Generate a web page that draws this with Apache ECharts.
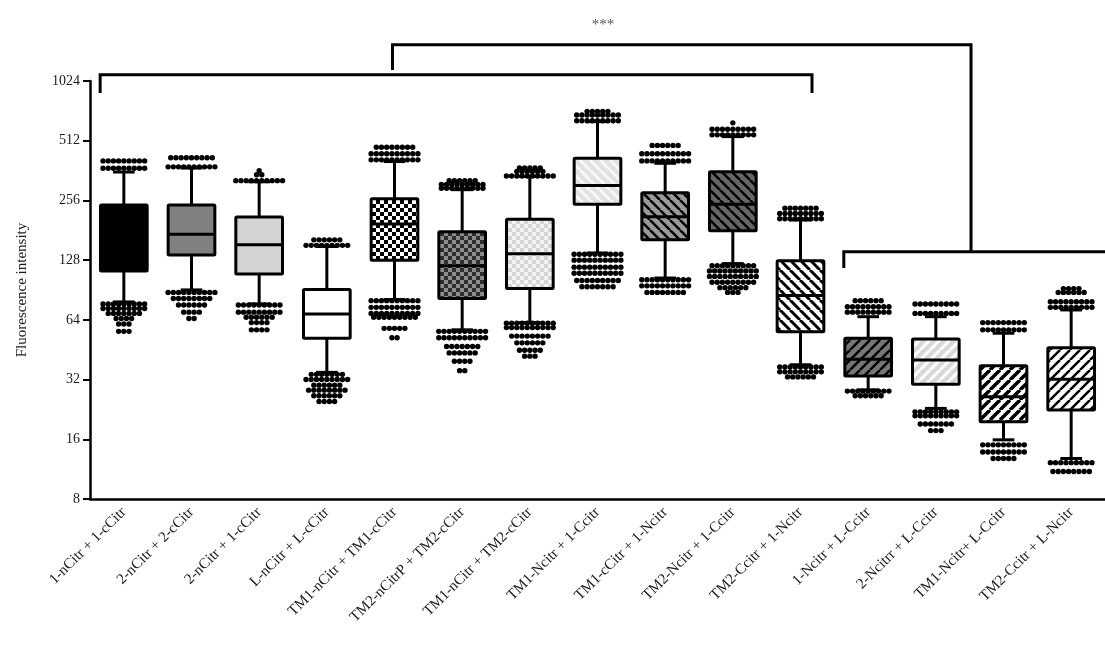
<!DOCTYPE html>
<html>
<head>
<meta charset="utf-8">
<script src="https://cdn.jsdelivr.net/npm/echarts@6/dist/echarts.min.js"></script>
<style>
html, body { margin: 0; padding: 0; background: #fff; }
#main { width: 1105px; height: 645px; }
</style>
</head>
<body>
<div id="main"></div>
<script>
const categories = [
  '1-nCitr + 1-cCitr', '2-nCitr + 2-cCitr', '2-nCitr + 1-cCitr', 'L-nCitr + L-cCitr',
  'TM1-nCitr + TM1-cCitr', 'TM2-nCitrP + TM2-cCitr', 'TM1-nCitr + TM2-cCitr',
  'TM1-Ncitr + 1-Ccitr', 'TM1-cCitr + 1-Ncitr', 'TM2-Ncitr + 1-Ccitr', 'TM2-Ccitr + 1-Ncitr',
  '1-Ncitr + L-Ccitr', '2-Ncitrr + L-Ccitr', 'TM1-Ncitr+ L-Ccitr', 'TM2-Ccitr + L-Ncitr'
];
const whiskerLow  = [78.8, 90.6, 77, 34.8, 81, 57, 62, 139, 104, 123, 38, 28.4, 22.9, 15.9, 12.8];
const q1          = [113, 136, 109, 51.7, 128, 82, 92, 245, 162, 180, 55.8, 33.4, 30.3, 19.6, 22.5];
const median      = [170, 173, 153, 68.6, 195, 120, 138, 304, 212, 245, 85, 40.5, 40.2, 26.2, 32.1];
const q3          = [243, 243, 211, 91, 261, 178, 206, 418, 280, 357, 127, 51.7, 51.3, 37.6, 46.3];
const whiskerHigh = [356, 373, 318, 150, 402, 290, 338, 639, 394, 537, 204, 66.4, 66.4, 54.8, 71.8];

// outlier rows: [value, number of dots at that value]
const outliersHigh = [
  [[372, 9], [405, 9]],
  [[378, 10], [420, 9]],
  [[322, 10], [345, 2], [362, 1]],
  [[152, 9], [162, 6]],
  [[410, 10], [440, 10], [475, 8]],
  [[295, 9], [308, 9], [322, 6]],
  [[340, 10], [358, 6], [373, 5]],
  [[645, 9], [690, 9], [720, 5]],
  [[405, 10], [440, 10], [485, 6]],
  [[548, 9], [585, 9], [630, 1]],
  [[207, 9], [220, 9], [234, 7]],
  [[70, 9], [74.5, 9], [80, 6]],
  [[69, 9], [77, 9]],
  [[57, 9], [62, 9]],
  [[74, 9], [79, 9], [88, 6], [92, 4]]
];
const outliersLow = [
  [[77, 9], [73, 9], [69, 7], [65, 4], [61, 3], [56, 3]],
  [[88, 10], [82, 8], [76, 6], [70, 4], [65, 2]],
  [[76, 9], [70, 9], [66, 6], [62, 4], [57, 4]],
  [[34, 7], [32, 9], [30, 6], [28.3, 8], [26.5, 6], [24.8, 4]],
  [[80, 10], [74, 10], [69, 10], [66, 9], [58, 5], [52, 2]],
  [[56, 10], [52, 10], [47, 7], [43.6, 6], [39.6, 4], [35.5, 2]],
  [[61.5, 10], [58.5, 10], [53, 8], [49, 6], [45, 5], [42, 3]],
  [[137, 10], [128, 10], [118, 10], [110, 10], [101, 9], [94, 7]],
  [[102, 10], [95, 10], [88, 8]],
  [[120, 9], [113, 10], [106, 10], [99, 9], [93, 6], [88, 3]],
  [[37, 9], [35, 9], [33, 6]],
  [[28, 9], [26.5, 6]],
  [[22, 9], [21, 9], [19.1, 7], [17.7, 3]],
  [[15, 9], [13.8, 9], [12.8, 5]],
  [[12.2, 9], [11, 8]]
];
const yTicks = [8, 16, 32, 64, 128, 256, 512, 1024];

// ---- fills
function tile(size, draw) {
  const c = document.createElement('canvas');
  c.width = c.height = size;
  draw(c.getContext('2d'), size);
  return { image: c, repeat: 'repeat' };
}
function checker(a, b, s) {
  return tile(2 * s, (g) => {
    g.fillStyle = a; g.fillRect(0, 0, 2 * s, 2 * s);
    g.fillStyle = b; g.fillRect(0, 0, s, s); g.fillRect(s, s, s, s);
  });
}
function stripes(bg, fg, w, dir) {
  return tile(10, (g, s) => {
    g.fillStyle = bg; g.fillRect(0, 0, s, s);
    g.strokeStyle = fg; g.lineWidth = w; g.beginPath();
    if (dir === '\\') {
      for (const k of [-s, 0, s]) { g.moveTo(k, 0); g.lineTo(k + s, s); }
    } else {
      for (const k of [0, s, 2 * s]) { g.moveTo(k, 0); g.lineTo(k - s, s); }
    }
    g.stroke();
  });
}
const fills = [
  '#000', '#808080', '#d3d3d3', '#fff',
  checker('#fff', '#000', 4),
  checker('#8c8c8c', '#2e2e2e', 4),
  checker('#f3f3f3', '#d4d4d4', 4),
  stripes('#e2e2e2', '#f8f8f8', 3, '\\'),
  stripes('#9a9a9a', '#000', 2.5, '\\'),
  stripes('#666', '#000', 2.5, '\\'),
  stripes('#fff', '#000', 3, '\\'),
  stripes('#777', '#000', 2.5, '/'),
  stripes('#d8d8d8', '#fff', 3, '/'),
  stripes('#fff', '#000', 3.5, '/'),
  stripes('#fff', '#000', 2.5, '/')
];

const FONT = "'Liberation Serif', 'DejaVu Serif', serif";
const LW = 3;

const boxData = categories.map((c, i) => [i, whiskerLow[i], q1[i], median[i], q3[i], whiskerHigh[i]]);
const dotData = [];
categories.forEach((c, i) => {
  outliersHigh[i].concat(outliersLow[i]).forEach(r => dotData.push([i, r[0], r[1]]));
});

function renderBox(params, api) {
  const i = api.value(0);
  const band = api.coord([1, 64])[0] - api.coord([0, 64])[0];
  const x = api.coord([i, 64])[0];
  const half = band * 0.345, cap = band * 0.16;
  const y = k => api.coord([i, api.value(k)])[1];
  const yl = y(1), y1 = y(2), ym = y(3), y3 = y(4), yh = y(5);
  const line = (x1, ya, x2, yb) => ({
    type: 'line', shape: { x1, y1: ya, x2, y2: yb },
    style: { stroke: '#000', lineWidth: LW }
  });
  return {
    type: 'group',
    children: [
      line(x, yh, x, y3),
      line(x, y1, x, yl),
      line(x - cap, yh, x + cap, yh),
      line(x - cap, yl, x + cap, yl),
      {
        type: 'rect',
        shape: { x: x - half, y: y3, width: 2 * half, height: y1 - y3, r: 1 },
        style: { fill: fills[i], stroke: '#000', lineWidth: LW }
      },
      line(x - half, ym, x + half, ym)
    ]
  };
}

function renderDots(params, api) {
  const p = api.coord([api.value(0), api.value(1)]);
  const n = api.value(2);
  const kids = [];
  for (let k = 0; k < n; k++) {
    kids.push({
      type: 'circle',
      shape: { cx: p[0] + (k - (n - 1) / 2) * 5.2, cy: p[1], r: 2.7 },
      style: { fill: '#000' }
    });
  }
  return { type: 'group', children: kids };
}

const chart = echarts.init(document.getElementById('main'));
chart.setOption({
  animation: false,
  backgroundColor: '#fff',
  grid: { left: 90, top: 81, width: 1023, height: 418 },
  xAxis: {
    type: 'category',
    data: categories,
    axisLine: { lineStyle: { color: '#000', width: 2.5 } },
    axisTick: { alignWithLabel: true, length: 7, lineStyle: { color: '#000', width: 2 } },
    axisLabel: {
      rotate: 45, interval: 0, margin: 11,
      fontFamily: FONT, fontSize: 15, color: '#1a1a1a'
    },
    splitLine: { show: false }
  },
  yAxis: {
    type: 'log',
    logBase: 2,
    min: 8,
    max: 1024,
    name: 'Fluorescence intensity',
    nameLocation: 'middle',
    nameRotate: 90,
    nameGap: 60,
    nameTextStyle: { fontFamily: FONT, fontSize: 15, color: '#1a1a1a' },
    axisLine: { show: true, lineStyle: { color: '#000', width: 2.5 } },
    axisTick: { show: true, length: 7, lineStyle: { color: '#000', width: 2 }, customValues: yTicks },
    axisLabel: {
      fontFamily: FONT, fontSize: 14, color: '#1a1a1a', margin: 10,
      customValues: yTicks,
      formatter: v => String(Math.round(v))
    },
    splitLine: { show: false }
  },
  series: [
    {
      type: 'custom',
      renderItem: renderBox,
      encode: { x: 0, y: [1, 2, 3, 4, 5] },
      data: boxData,
      z: 2
    },
    {
      type: 'custom',
      renderItem: renderDots,
      encode: { x: 0, y: 1 },
      data: dotData,
      z: 3
    }
  ]
});

// significance brackets, placed in axis units
const x0 = chart.convertToPixel({ xAxisIndex: 0 }, 0);
const bandPx = chart.convertToPixel({ xAxisIndex: 0 }, 1) - x0;
const px = c => x0 + c * bandPx;
const py = v => chart.convertToPixel({ yAxisIndex: 0 }, v);
const brackets = [
  // [from category, to category, top value, left end value, right end value]
  [-0.35, 10.17, 1100, 890, 890],
  [3.97, 12.52, 1560, 1165, 141],
  [10.64, 15.5, 141, 117, null]
];
const graphics = brackets.map(b => {
  const pts = [[px(b[0]), py(b[3])], [px(b[0]), py(b[2])], [px(b[1]), py(b[2])]];
  if (b[4] != null) pts.push([px(b[1]), py(b[4])]);
  return {
    type: 'polyline',
    shape: { points: pts },
    style: { stroke: '#000', lineWidth: LW, fill: null, lineJoin: 'miter' },
    z: 10
  };
});
graphics.push({
  type: 'text',
  x: px(7.08), y: py(1950),
  style: { text: '***', fontFamily: FONT, fontSize: 15, fill: '#555', align: 'center', verticalAlign: 'middle' },
  z: 10
});
chart.setOption({ graphic: graphics });
</script>
</body>
</html>
